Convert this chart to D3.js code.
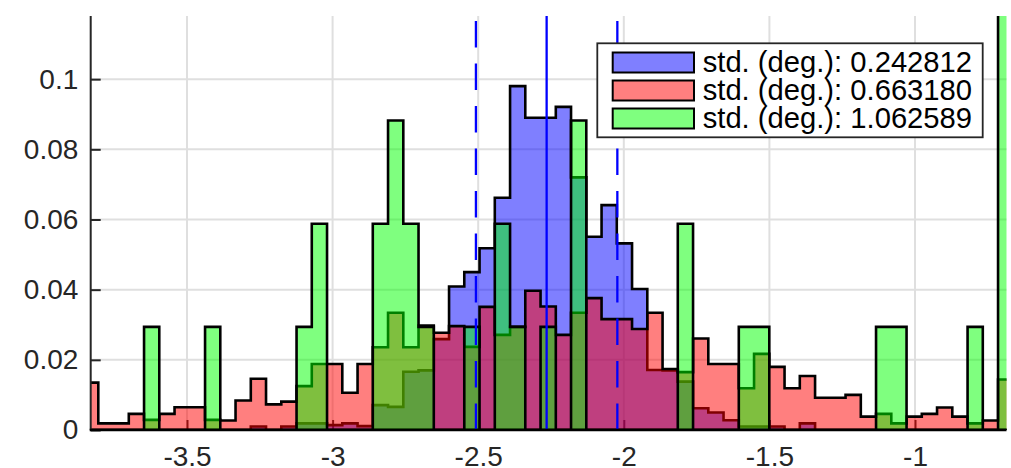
<!DOCTYPE html>
<html>
<head>
<meta charset="utf-8">
<script src="https://cdn.jsdelivr.net/npm/d3@7"></script>
<style>
body { margin: 0; background: #fff; }
text { font-family: "Liberation Sans", Arial, Helvetica, sans-serif; }
</style>
</head>
<body>
<div id="chart"></div>
<script>
// data: shared bin edges (61 bins) and probability per bin for each run
const binEdges = [-3.8570, -3.8046, -3.7523, -3.6999, -3.6475, -3.5952, -3.5428, -3.4904,
    -3.4380, -3.3857, -3.3333, -3.2809, -3.2286, -3.1762, -3.1238, -3.0715, -3.0191,
    -2.9667, -2.9143, -2.8620, -2.8096, -2.7572, -2.7049, -2.6525, -2.6001, -2.5478,
    -2.4954, -2.4430, -2.3906, -2.3383, -2.2859, -2.2335, -2.1812, -2.1288, -2.0764,
    -2.0241, -1.9717, -1.9193, -1.8669, -1.8146, -1.7622, -1.7098, -1.6575, -1.6051,
    -1.5527, -1.5004, -1.4480, -1.3956, -1.3432, -1.2909, -1.2385, -1.1861, -1.1338,
    -1.0814, -1.0290, -0.9767, -0.9243, -0.8719, -0.8195, -0.7672, -0.7148, -0.6624];

const blueValues = [0, 0, 0, 0, 0, 0, 0, 0, 0, 0, 0,
    0.0010, 0, 0.0010, 0.0019, 0.0019, 0.0014, 0.0019, 0.0011, 0.0071, 0.0066,
    0.0166, 0.0170, 0.0259, 0.0409, 0.0450, 0.0518, 0.0662, 0.0980, 0.0890, 0.0890,
    0.0921, 0.0720, 0.0551, 0.0641, 0.0532, 0.0402, 0.0171, 0.0170, 0.0138, 0.0062,
    0.0050, 0.0028, 0.0010, 0.0010, 0.0010, 0, 0.0019, 0, 0, 0,
    0, 0, 0, 0, 0, 0, 0, 0, 0, 0];

const redValues = [0.0135, 0.0019, 0.0019, 0.0046, 0.0029, 0.0046, 0.0065, 0.0065, 0.0029, 0.0027, 0.0084,
    0.0146, 0.0073, 0.0081, 0.0125, 0.0188, 0.0188, 0.0106, 0.0188, 0.0236, 0.0334,
    0.0236, 0.0298, 0.0277, 0.0296, 0.0237, 0.0351, 0.0271, 0.0294, 0.0397, 0.0352,
    0.0271, 0.0334, 0.0376, 0.0316, 0.0316, 0.0288, 0.0334, 0.0174, 0.0165, 0.0261,
    0.0188, 0.0188, 0.0119, 0.0217, 0.0180, 0.0119, 0.0154, 0.0092, 0.0092, 0.0100,
    0.0038, 0.0046, 0.0019, 0.0038, 0.0046, 0.0064, 0.0038, 0.0019, 0.0027, 0.0144];

const greenValues = [0, 0, 0, 0, 0.0294, 0, 0, 0, 0.0294, 0, 0,
    0, 0, 0, 0.0294, 0.0588, 0, 0, 0, 0.0588, 0.0882,
    0.0588, 0.0294, 0, 0, 0.0294, 0, 0.0588, 0.0294, 0, 0.0294,
    0, 0.0882, 0, 0, 0, 0, 0, 0, 0.0588, 0,
    0, 0, 0.0294, 0.0294, 0, 0, 0, 0, 0, 0,
    0, 0.0294, 0.0294, 0, 0, 0, 0, 0.0294, 0, 0.1765];

const seriesColors = ['#0000ff', '#ff0000', '#00ff00'];
const legendLabels = ['std. (deg.): 0.242812', 'std. (deg.): 0.663180', 'std. (deg.): 1.062589'];

const blueMean = -2.2650;
const blueStd = 0.242812;

const xTicks = [-3.5, -3, -2.5, -2, -1.5, -1];
const xTickLabels = ['-3.5', '-3', '-2.5', '-2', '-1.5', '-1'];
const yTicks = [0, 0.02, 0.04, 0.06, 0.08, 0.1];
const yTickLabels = ['0', '0.02', '0.04', '0.06', '0.08', '0.1'];

// constants
const FRAME_WIDTH = 1011;
const FRAME_HEIGHT = 468;
const PLOT = {left: 90.7, right: 1006.5, top: 16, bottom: 430};
const AXIS_COLOR = '#262626';
const GRID_COLOR = '#dfdfdf';
const FONT_SIZE = 28;

const xScale = d3.scaleLinear()
                .domain([-3.8307, -0.6858])
                .range([PLOT.left, PLOT.right]);

const yScale = d3.scaleLinear()
                .domain([0, 0.118])
                .range([PLOT.bottom, PLOT.top]);

// create a frame
const SVG = d3.select('#chart')
                .append('svg')
                .attr('width', FRAME_WIDTH)
                .attr('height', FRAME_HEIGHT);

SVG.append('clipPath')
    .attr('id', 'plotClip')
    .append('rect')
    .attr('x', PLOT.left)
    .attr('y', PLOT.top)
    .attr('width', PLOT.right - PLOT.left)
    .attr('height', PLOT.bottom - PLOT.top);

// grid lines
SVG.append('g')
    .selectAll('line')
    .data(xTicks)
    .enter()
    .append('line')
    .attr('x1', d => xScale(d))
    .attr('x2', d => xScale(d))
    .attr('y1', PLOT.top)
    .attr('y2', PLOT.bottom)
    .attr('stroke', GRID_COLOR)
    .attr('stroke-width', 2);

SVG.append('g')
    .selectAll('line')
    .data(yTicks.slice(1))
    .enter()
    .append('line')
    .attr('x1', PLOT.left)
    .attr('x2', PLOT.right)
    .attr('y1', d => yScale(d))
    .attr('y2', d => yScale(d))
    .attr('stroke', GRID_COLOR)
    .attr('stroke-width', 2);

// axes (ticks point inwards like the original)
const xAxis = SVG.append('g')
    .attr('transform', 'translate(0,' + PLOT.bottom + ')')
    .call(d3.axisBottom(xScale)
            .tickValues(xTicks)
            .tickFormat((d, i) => xTickLabels[i])
            .tickSizeInner(-10)
            .tickSizeOuter(0)
            .tickPadding(16));

const yAxis = SVG.append('g')
    .attr('transform', 'translate(' + PLOT.left + ',0)')
    .call(d3.axisLeft(yScale)
            .tickValues(yTicks)
            .tickFormat((d, i) => yTickLabels[i])
            .tickSizeInner(-10)
            .tickSizeOuter(0)
            .tickPadding(12.4));

[xAxis, yAxis].forEach(function (ax) {
    ax.select('.domain').remove();
    ax.selectAll('.tick line').attr('stroke', AXIS_COLOR).attr('stroke-width', 2);
    ax.selectAll('.tick text')
        .attr('fill', AXIS_COLOR)
        .style('font-size', FONT_SIZE + 'px')
        .style('font-family', '"Liberation Sans", Arial, sans-serif');
});

// histograms as stair outlines, drawn blue, red, green
function histPath(values) {
    let p = d3.path();
    p.moveTo(xScale(binEdges[0]), yScale(0));
    values.forEach(function (v, i) {
        p.lineTo(xScale(binEdges[i]), yScale(v));
        p.lineTo(xScale(binEdges[i + 1]), yScale(v));
    });
    p.lineTo(xScale(binEdges[values.length]), yScale(0));
    p.closePath();
    return p.toString();
}

const HIST = SVG.append('g').attr('clip-path', 'url(#plotClip)');

[blueValues, redValues, greenValues].forEach(function (vals, i) {
    HIST.append('path')
        .attr('d', histPath(vals))
        .attr('fill', seriesColors[i])
        .attr('fill-opacity', 0.5)
        .attr('stroke', '#000')
        .attr('stroke-width', 2.6)
        .attr('stroke-linejoin', 'miter');
});

// mean and +/- std lines of the first run
const meanLines = [
    {x: blueMean, dash: null},
    {x: blueMean - blueStd, dash: '26.5,16'},
    {x: blueMean + blueStd, dash: '26.5,16'}
];

SVG.append('g')
    .selectAll('line')
    .data(meanLines)
    .enter()
    .append('line')
    .attr('x1', d => xScale(d.x))
    .attr('x2', d => xScale(d.x))
    .attr('y1', PLOT.bottom)
    .attr('y2', PLOT.top)
    .attr('stroke', '#0000ff')
    .attr('stroke-width', 2.3)
    .attr('stroke-dasharray', d => d.dash);

// axis lines
SVG.append('line')
    .attr('x1', PLOT.left).attr('x2', PLOT.left)
    .attr('y1', PLOT.top).attr('y2', PLOT.bottom)
    .attr('stroke', AXIS_COLOR)
    .attr('stroke-width', 2);

SVG.append('line')
    .attr('x1', PLOT.left - 1).attr('x2', PLOT.right)
    .attr('y1', PLOT.bottom).attr('y2', PLOT.bottom)
    .attr('stroke', '#000')
    .attr('stroke-width', 2.6);

// legend
const LEGEND = SVG.append('g');

LEGEND.append('rect')
    .attr('x', 597.3)
    .attr('y', 43.3)
    .attr('width', 385.4)
    .attr('height', 94)
    .attr('fill', '#fff')
    .attr('stroke', AXIS_COLOR)
    .attr('stroke-width', 1.8);

legendLabels.forEach(function (label, i) {
    let cy = 62.5 + i * 28;
    LEGEND.append('rect')
        .attr('x', 612.7)
        .attr('y', cy - 10)
        .attr('width', 81.3)
        .attr('height', 20)
        .attr('fill', seriesColors[i])
        .attr('fill-opacity', 0.5)
        .attr('stroke', '#000')
        .attr('stroke-width', 2);
    LEGEND.append('text')
        .attr('x', 702.7)
        .attr('y', cy + 9.8)
        .attr('fill', '#000')
        .style('font-size', '29.2px')
        .text(label);
});
</script>
</body>
</html>
